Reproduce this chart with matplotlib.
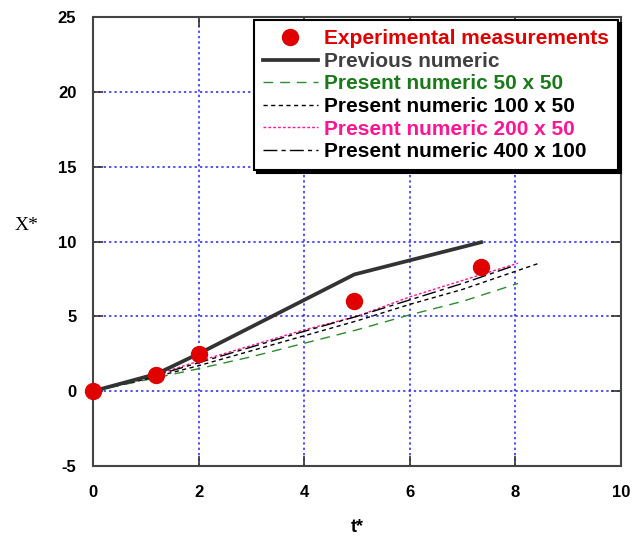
import matplotlib
matplotlib.use("Agg")
import matplotlib.pyplot as plt

plt.rcParams["axes.unicode_minus"] = False

# Experimental measurements
exp_t = [0, 1.2, 2.0, 4.95, 7.35]
exp_x = [0, 1.1, 2.5, 6.0, 8.3]

# Previous numeric
prev_t = [0, 1.2, 2.0, 4.95, 7.35]
prev_x = [0, 1.15, 2.5, 7.8, 9.95]

# Present numeric 50 x 50
g_t = [0, 1, 2, 3, 4, 5, 6, 7, 8.05]
g_x = [0, 0.75, 1.5, 2.3, 3.2, 4.1, 5.1, 6.0, 7.2]

# Present numeric 100 x 50
b1_t = [0, 1, 2, 3, 4, 5, 6, 7, 8.45]
b1_x = [0, 0.8, 1.7, 2.7, 3.7, 4.7, 5.8, 6.8, 8.55]

# Present numeric 200 x 50
p_t = [0, 1, 2, 3, 4, 5, 6, 7, 8.05]
p_x = [0, 0.9, 2.0, 3.05, 4.1, 5.0, 6.3, 7.4, 8.55]

# Present numeric 400 x 100
b2_t = [0, 1, 2, 3, 4, 5, 6, 7, 7.95]
b2_x = [0, 0.85, 1.9, 2.95, 4.0, 5.0, 6.1, 7.2, 8.35]

labels = ["Experimental measurements", "Previous numeric",
          "Present numeric 50 x 50", "Present numeric 100 x 50",
          "Present numeric 200 x 50", "Present numeric 400 x 100"]
label_colors = ["#e00000", "#404040", "#1a7a1a", "#000000", "#ff1493", "#000000"]

xticks = [0, 2, 4, 6, 8, 10]
yticks = [-5, 0, 5, 10, 15, 20, 25]

fig = plt.figure(figsize=(6.41, 5.42), dpi=100)
ax = fig.add_axes([93/641, 1-466/542, (621-93)/641, (466-17)/542])

h_g, = ax.plot(g_t, g_x, color="#2e8b2e", lw=1.0, dashes=(7, 5), zorder=3)
h_b1, = ax.plot(b1_t, b1_x, color="black", lw=1.0, dashes=(3, 2.5), zorder=3)
h_p, = ax.plot(p_t, p_x, color="#ff1493", lw=1.0, dashes=(2, 1.5), zorder=3)
h_b2, = ax.plot(b2_t, b2_x, color="black", lw=1.0, dashes=(10, 3, 3, 3), zorder=3)
h_prev, = ax.plot(prev_t, prev_x, color="#333333", lw=2.7, zorder=4)
h_exp, = ax.plot(exp_t, exp_x, "o", color="#e00000", ms=11.5, mec="#e00000",
                 zorder=5, clip_on=False)

ax.set_xlim(0, 10)
ax.set_ylim(-5, 25)
ax.set_xticks(xticks)
ax.set_yticks(yticks)
ax.grid(True, color="#2020ff", linestyle=(0, (1.5, 2.0)), lw=1.1)
for s in ax.spines.values():
    s.set_color("#444444")
    s.set_linewidth(1.5)
ax.tick_params(direction="in", length=7, width=1.2, color="#333333",
               top=True, right=True, labelsize=12)
ax.tick_params(axis="y", pad=12)
ax.tick_params(axis="x", pad=14)
for t in ax.get_xticklabels() + ax.get_yticklabels():
    t.set_fontweight("bold")
    t.set_fontfamily("Liberation Sans")

fig.text(15/641, 1-226/542, "X*", fontsize=14, family="Liberation Serif",
         ha="left", va="center")
fig.text(357/641, 1-527/542, "t*", fontsize=13, family="Liberation Sans",
         fontweight="bold", ha="center", va="center")

leg = ax.legend([h_exp, h_prev, h_g, h_b1, h_p, h_b2], labels,
                loc="upper right", bbox_to_anchor=(618/641, 1-20/542),
                bbox_transform=fig.transFigure,
                prop={"family": "Liberation Sans", "weight": "bold", "size": 15},
                handlelength=2.6, handletextpad=0.3, labelspacing=0.17,
                borderpad=0.45, borderaxespad=0.0, fancybox=False,
                shadow={"color": "black", "alpha": 1.0},
                framealpha=1.0, edgecolor="black")
leg.get_frame().set_linewidth(1.5)
for txt, c in zip(leg.get_texts(), label_colors):
    txt.set_color(c)
leg.set_zorder(10)

fig.savefig("out.png", dpi=100)
